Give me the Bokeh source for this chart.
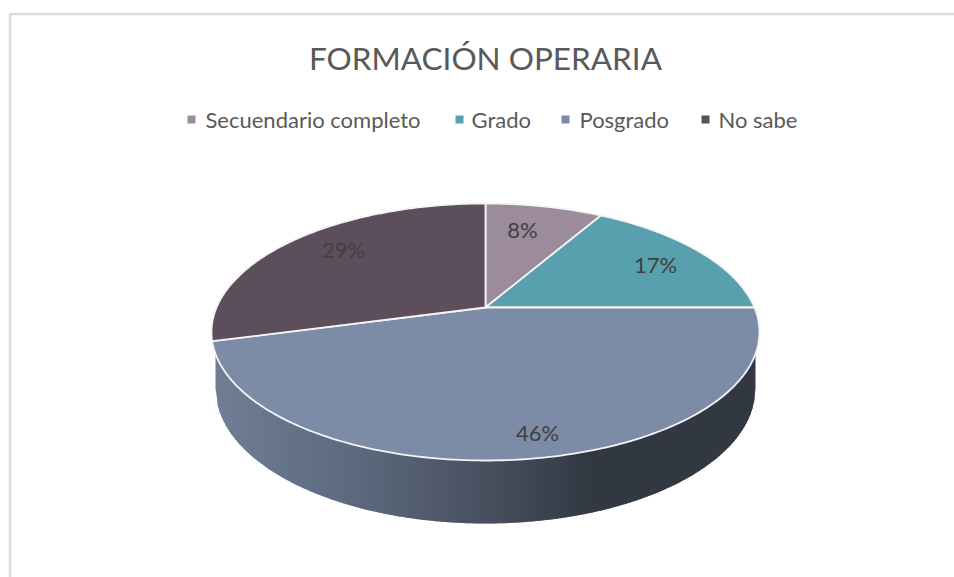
import numpy as np
from bokeh.embed import file_html
from bokeh.models import ColumnDataSource, Range1d
from bokeh.plotting import figure
from bokeh.resources import INLINE
from bokeh.core.properties import value

# ---- data ----
title_text = "FORMACIÓN OPERARIA"
categories = ["Secuendario completo", "Grado", "Posgrado", "No sabe"]
counts = [2, 4, 11, 7]  # they round to 8%, 17%, 46%, 29%
colors = ["#9C8B9B", "#58A0AD", "#7D8CA6", "#5D4E5C"]

label_x = [522, 655, 537, 343]
label_y = [229, 264, 432, 249]
legend_marker_x = [191, 459, 565, 705]
legend_text_x = [205, 471, 579, 718]
legend_y = 119

# ---- layout (page pixels) ----
CX, APEX_Y = 485.0, 307.0
TOP_Y, LOW_Y, RX = 203.0, 460.0, 274.0
RIM_CY, RIM_RY = (TOP_Y + LOW_Y) / 2, (LOW_Y - TOP_Y) / 2
BASE_CY, BASE_RX, BASE_RY = 388.0, 270.0, 135.0

up, down = APEX_Y - TOP_Y, LOW_Y - APEX_Y
K = (down - up) / (down + up)
B = up * (1 + K)
A = RX * np.sqrt(1 - K ** 2)


def rim(theta):
    u, v = np.sin(theta), np.cos(theta)
    d = 1 + K * v
    return CX + A * u / d, APEX_Y - B * v / d


p = figure(width=954, height=577, output_backend="svg", toolbar_location=None,
           x_range=Range1d(0, 954), y_range=Range1d(577, 0), min_border=0)
p.axis.visible = False
p.grid.visible = False
p.outline_line_color = None
p.background_fill_color = "#FFFFFF"
p.border_fill_color = "#FFFFFF"

# frame of the original picture
p.segment(x0=[9.5, 9.5], y0=[13.5, 13.5], x1=[954, 9.5], y1=[13.5, 577],
          line_color="#DCDCDC", line_width=2.5)

# side wall
stops_x = [BASE_RX * -1 + CX, 360, 500, 590, CX + BASE_RX]
stops = np.array([[112, 127, 150], [92, 105, 125], [70, 77, 92], [51, 57, 67], [51, 57, 67]], float)
edges = np.arange(CX - BASE_RX, CX + BASE_RX, 2.0)
sx, sy, sc = [], [], []
for x0 in edges:
    x1 = min(x0 + 3.0, CX + BASE_RX)
    xx = np.array([x0, x1])
    t1 = RIM_CY + RIM_RY * np.sqrt(np.clip(1 - ((xx - CX) / RX) ** 2, 0, 1)) - 3
    b1 = BASE_CY + BASE_RY * np.sqrt(np.clip(1 - ((xx - CX) / BASE_RX) ** 2, 0, 1))
    sx.append([x0, x1, x1, x0])
    sy.append([t1[0], t1[1], b1[1], b1[0]])
    rgb = [int(np.interp(x0 + 1, stops_x, stops[:, i])) for i in range(3)]
    sc.append("#%02X%02X%02X" % tuple(rgb))
p.patches(sx, sy, fill_color=sc, line_color=None)

# top face
total = sum(counts)
fractions = np.cumsum([0] + counts) / total
xs, ys = [], []
for a, b in zip(fractions[:-1], fractions[1:]):
    th = np.linspace(a, b, 160) * 2 * np.pi
    rx_, ry_ = rim(th)
    xs.append([CX] + list(rx_))
    ys.append([APEX_Y] + list(ry_))
src = ColumnDataSource(dict(xs=xs, ys=ys, color=colors))
p.patches("xs", "ys", source=src, fill_color="color", line_color="#F4F4F6",
          line_width=1.8, line_join="round")

# percentage labels
p.text(x=label_x, y=label_y, text=[f"{round(100 * c / total)}%" for c in counts],
       text_align="center", text_baseline="middle", text_color="#404040",
       text_font=value("Lato"), text_font_size="22px")

# legend
p.scatter(x=legend_marker_x, y=[legend_y] * 4, marker="square", size=8,
          color=colors, line_color=None)
p.text(x=legend_text_x, y=[legend_y] * 4, text=categories, text_align="left",
       text_baseline="middle", text_color="#595959", text_font=value("Lato"),
       text_font_size="22px")

# title
p.text(x=[CX], y=[57], text=[title_text], text_align="center", text_baseline="middle",
       text_color="#595959", text_font=value("Lato"), text_font_size="31.5px")

open("out.html", "w").write(file_html(p, INLINE))
